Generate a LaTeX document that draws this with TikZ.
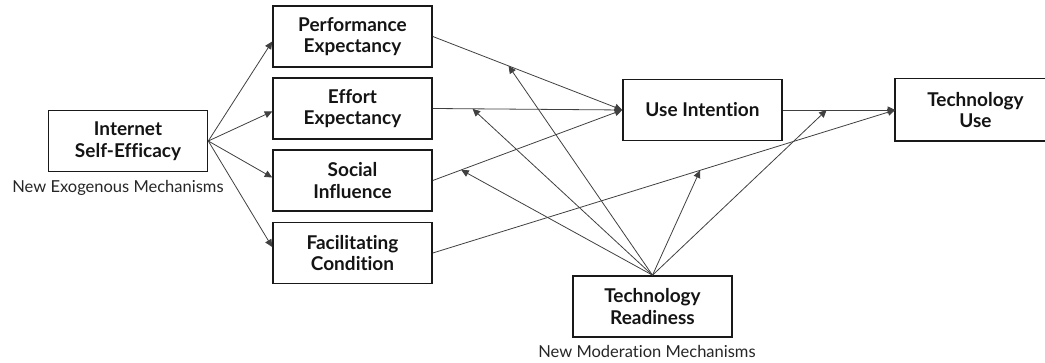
\documentclass[tikz,border=0pt]{standalone}
\usepackage{fontspec}
\setmainfont{Lato}[Ligatures=NoCommon]
\usetikzlibrary{arrows.meta}
\tikzset{
  boxline/.style={draw=black!90, line width=1.6pt},
  box/.style={boxline, minimum width=159pt, minimum height=61pt,
    inner sep=0pt, align=center, font=\fontsize{19}{21.5}\selectfont\bfseries, text=black!92},
  conn/.style={draw=black!75, line width=0.8pt, -{Triangle[length=7.5pt,width=7pt]}},
  lbl/.style={font=\fontsize{16.5}{19}\selectfont, text=black!85}
}
\begin{document}
\begin{tikzpicture}[x=1pt,y=1pt]
\useasboundingbox (0,0) rectangle (1045,363);
\node[box] (ISE) at (128,222) {Internet\\Self-Efficacy};
\node[box] (PE) at (352.5,326.5) {Performance\\Expectancy};
\node[box] (EE) at (352.5,254.5) {Effort\\Expectancy};
\node[box] (SI) at (352.5,182.5) {Social\\Influence};
\node[box] (FC) at (352.5,110) {Facilitating\\Condition};
\node[box] (UI) at (702.5,253) {Use Intention};
\node[box, draw=none] (TU) at (975.5,253) {Technology\\Use};
\draw[boxline] (TU.south west) rectangle ([xshift=25pt]TU.north east);
\node[box] (TR) at (652.5,56.5) {Technology\\Readiness};
\node[lbl] (L1) at (118,175) {New Exogenous Mechanisms};
\node[lbl] (L2) at (647,12) {New Moderation Mechanisms};

\draw[conn] (ISE.east) -- ([yshift=-5pt]PE.west);
\draw[conn] (ISE.east) -- ([yshift=-3pt]EE.west);
\draw[conn] (ISE.east) -- ([yshift=3pt]SI.west);
\draw[conn] (ISE.east) -- ([yshift=6pt]FC.west);

\draw[conn] (PE.east) -- (UI.west) coordinate[pos=0.4] (m1);
\draw[conn] (EE.east) -- (UI.west) coordinate[pos=0.21] (m2);
\draw[conn] (SI.east) -- (UI.west) coordinate[pos=0.15] (m3);
\draw[conn] (UI.east) -- (TU.west) coordinate[pos=0.39] (m4);
\draw[conn] (FC.east) -- (TU.west) coordinate[pos=0.578] (m5);

\draw[conn] (TR.north) -- (m1);
\draw[conn] (TR.north) -- (m2);
\draw[conn] (TR.north) -- (m3);
\draw[conn] (TR.north) -- (m4);
\draw[conn] (TR.north) -- (m5);
\end{tikzpicture}
\end{document}
